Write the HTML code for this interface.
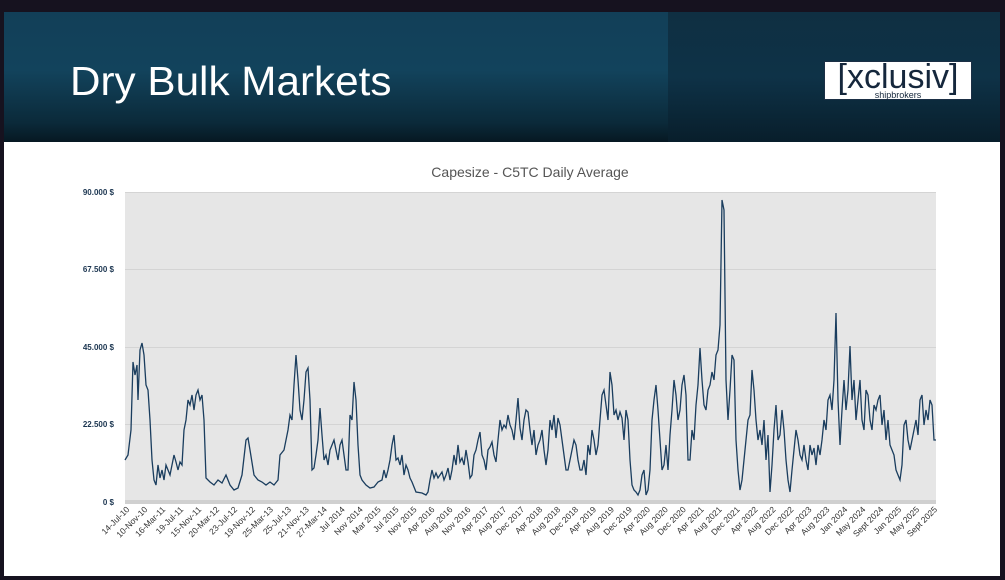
<!DOCTYPE html>
<html><head><meta charset="utf-8"><style>
html,body{margin:0;padding:0;width:1005px;height:580px;overflow:hidden;background:#16121f;font-family:"Liberation Sans",sans-serif}
#hdr{position:absolute;left:4px;top:12px;width:996px;height:130px;background:linear-gradient(180deg,#123f58 0%,#12435c 45%,#0b2a3a 85%,#061822 100%)}
#hdrR{position:absolute;left:668px;top:12px;width:332px;height:130px;background:linear-gradient(180deg,#0f2f42 0%,#0e3247 50%,#081e2b 100%)}
#title{position:absolute;left:70px;top:58px;color:#fff;font-size:41px;transform:scaleX(1.03);transform-origin:left}
#logo{position:absolute;left:824px;top:61px;width:146px;height:37px;background:#fff;border:1px solid #1b2f45}
#logo .x{position:absolute;left:0;top:-4px;width:146px;text-align:center;font-size:34px;color:#15273c}
#logo .s{position:absolute;left:0;top:28px;width:146px;text-align:center;font-size:9px;color:#15273c}
#white{position:absolute;left:4px;top:142px;width:996px;height:434px;background:#fff}
</style></head><body>
<div id="hdr"></div><div id="hdrR"></div>
<div id="title">Dry Bulk Markets</div>
<div id="logo"><div class="x">[xclusiv]</div><div class="s">shipbrokers</div></div>
<div id="white"></div>
<svg style="position:absolute;left:0;top:0" width="1005" height="580">
<text x="530" y="177" text-anchor="middle" font-size="14" fill="#555" font-family="Liberation Sans">Capesize - C5TC Daily Average</text>
<rect x="125" y="192" width="811" height="310" fill="#e6e6e6"/>
<g stroke="#d4d4d4" stroke-width="1"><line x1="125" y1="192.5" x2="936" y2="192.5"/><line x1="125" y1="269.5" x2="936" y2="269.5"/><line x1="125" y1="347.5" x2="936" y2="347.5"/><line x1="125" y1="424.5" x2="936" y2="424.5"/></g>
<rect x="125" y="500" width="811" height="4" fill="#d0d0d0"/>
<g font-size="8" font-weight="bold" fill="#1b3550" text-anchor="end" font-family="Liberation Sans">
<text x="114" y="195">90.000 $</text><text x="114" y="272">67.500 $</text><text x="114" y="350">45.000 $</text><text x="114" y="427">22.500 $</text><text x="114" y="505">0 $</text></g>
<polyline fill="none" stroke="#1a3d5e" stroke-width="1.3" points="125,460 128,455 131,430 133,362 135,375 137,365 138,400 140,350 142,343 144,355 146,385 148,390 150,420 152,460 154,480 156,485 158,465 160,478 162,470 164,480 166,465 168,470 170,475 172,465 174,455 176,462 178,470 180,462 182,465 184,430 186,420 188,400 190,405 192,395 194,410 196,395 198,390 200,400 202,395 204,420 206,478 210,482 214,485 218,480 222,483 226,475 230,485 234,490 238,488 242,475 246,440 248,438 250,450 254,475 258,480 262,482 266,485 270,482 274,485 278,480 280,455 284,450 286,440 288,430 290,415 292,420 294,385 296,355 298,380 300,410 302,420 304,400 306,372 308,368 310,400 312,470 314,468 316,455 318,440 320,408 322,435 324,460 326,455 328,465 330,450 332,445 334,440 336,450 338,460 340,445 342,440 344,455 346,470 348,470 350,415 352,420 354,382 356,400 358,445 360,475 362,480 366,485 370,488 374,487 378,482 382,480 384,470 386,478 388,470 390,460 392,445 394,435 396,460 398,458 400,465 402,455 404,475 406,465 408,470 410,478 412,482 416,492 422,493 426,495 428,492 430,480 432,470 434,478 436,473 438,478 442,472 444,480 446,475 448,468 450,480 452,470 454,455 456,465 458,445 460,462 462,458 464,465 466,450 468,462 470,478 472,475 474,455 476,450 478,440 480,432 482,455 484,460 486,470 488,450 490,447 492,442 494,455 496,462 498,440 500,420 502,430 504,425 506,428 508,415 510,425 512,430 514,440 516,420 518,398 520,428 522,440 524,420 526,410 528,412 530,430 532,445 534,430 536,455 538,445 540,440 542,430 544,450 546,465 548,450 550,420 552,430 554,415 556,438 558,418 560,425 562,440 564,455 566,470 568,470 570,460 572,450 574,440 576,445 578,460 580,470 582,470 584,460 586,475 588,445 590,455 592,430 594,440 596,455 598,445 600,420 602,395 604,390 606,405 608,420 610,372 612,385 614,415 616,410 618,420 620,412 622,418 624,440 626,410 628,420 630,460 632,485 634,490 636,492 638,495 640,490 642,475 644,470 646,495 648,490 650,470 652,420 654,400 656,385 658,410 660,440 662,470 664,465 666,445 668,470 670,435 672,410 674,380 676,395 678,420 680,410 682,385 684,375 686,395 688,460 690,460 692,430 694,440 696,405 698,385 700,348 702,380 704,405 706,410 708,390 710,385 712,372 714,380 716,355 718,350 720,325 722,200 724,210 726,380 728,420 730,390 732,355 734,360 736,440 738,470 740,490 742,480 744,460 746,440 748,420 750,415 752,370 754,390 756,420 758,440 760,430 762,445 764,420 766,460 768,435 770,492 772,465 774,430 776,405 778,440 780,435 782,410 784,430 786,460 788,480 790,492 792,470 794,450 796,430 798,440 800,455 802,460 804,445 806,460 808,470 810,445 812,455 814,448 816,465 818,445 820,455 822,440 824,420 826,430 828,400 830,395 832,410 834,380 836,313 838,400 840,445 842,410 844,380 846,410 848,390 850,346 852,400 854,380 856,420 858,400 860,380 862,420 864,430 866,390 868,395 870,420 872,430 874,405 876,410 878,400 880,395 882,425 884,410 886,440 888,420 890,445 892,450 894,455 896,470 898,475 900,480 902,465 904,425 906,420 908,440 910,450 912,440 914,430 916,420 918,435 920,400 922,395 924,425 926,410 928,420 930,400 932,405 934,440 936,440"/>
<g font-size="8.5" fill="#333" text-anchor="end" font-family="Liberation Sans" id="xl"></g>
</svg>
<script>
var L=["14-Jul-10","10-Nov-10","16-Mar-11","19-Jul-11","15-Nov-11","20-Mar-12","23-Jul-12","19-Nov-12","25-Mar-13","25-Jul-13","21-Nov-13","27-Mar-14","Jul 2014","Nov 2014","Mar 2015","Jul 2015","Nov 2015","Apr 2016","Aug 2016","Nov 2016","Apr 2017","Aug 2017","Dec 2017","Apr 2018","Aug 2018","Dec 2018","Apr 2019","Aug 2019","Dec 2019","Apr 2020","Aug 2020","Dec 2020","Apr 2021","Aug 2021","Dec 2021","Apr 2022","Aug 2022","Dec 2022","Apr 2023","Aug 2023","Jan 2024","May 2024","Sept 2024","Jan 2025","May 2025","Sept 2025"];
var g=document.getElementById('xl'),h='';
for(var i=0;i<L.length;i++){var x=130+i*17.95,y=510;h+='<text x="'+x+'" y="'+y+'" transform="rotate(-45 '+x+' '+y+')">'+L[i]+'</text>';}
g.innerHTML=h;
</script>
</body></html>
